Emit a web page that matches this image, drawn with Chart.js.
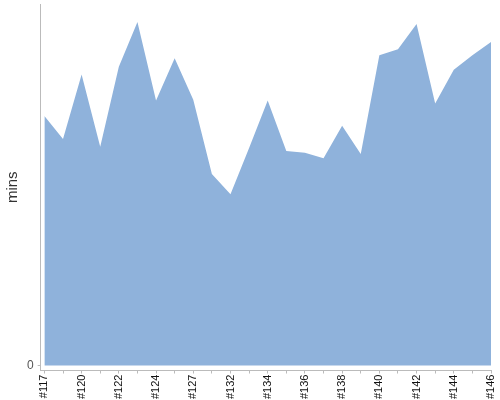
<!DOCTYPE html>
<html>
<head>
<meta charset="utf-8">
<script src="https://cdn.jsdelivr.net/npm/chart.js@4"></script>
<style>
  html, body { margin: 0; padding: 0; background: #fff; }
  #wrap { width: 500px; height: 400px; }
</style>
</head>
<body>
<div id="wrap"><canvas id="buildChart"></canvas></div>
<script>
// build numbers along the x axis
const builds = ['#117', '#118', '#120', '#121', '#122', '#123', '#124', '#125', '#127', '#130',
    '#132', '#133', '#134', '#135', '#136', '#137', '#138', '#139', '#140', '#141',
    '#142', '#143', '#144', '#145', '#146'];
// build duration in minutes
const durations = [41.4, 37.6, 48.3, 36.3, 49.6, 57.0, 44.0, 51.0, 44.1, 31.8,
    28.4, 36.1, 44.0, 35.6, 35.3, 34.4, 39.8, 35.1, 51.5, 52.5,
    56.7, 43.5, 49.1, 51.5, 53.7];
const yTicks = [0];

const points = durations.map((v, i) => ({ x: i, y: v }));

const ctx = document.getElementById('buildChart').getContext('2d');
new Chart(ctx, {
    type: 'line',
    data: {
        datasets: [{
            label: 'mins',
            data: points,
            fill: 'origin',
            backgroundColor: '#8fb2db',
            borderColor: '#8fb2db',
            borderWidth: 0,
            pointRadius: 0,
            tension: 0
        }]
    },
    options: {
        responsive: true,
        maintainAspectRatio: false,
        animation: false,
        layout: { padding: { top: 4, right: 9, left: 0, bottom: 0 } },
        plugins: {
            legend: { display: false },
            tooltip: { enabled: false }
        },
        scales: {
            x: {
                type: 'linear',
                min: -0.2,
                max: builds.length - 1,
                afterBuildTicks: axis => {
                    axis.ticks = builds.map((b, i) => ({ value: i }));
                },
                afterFit: axis => {
                    // let the last rotated label run to the edge
                    axis.paddingRight = 0;
                    axis.paddingLeft = 0;
                },
                ticks: {
                    autoSkip: false,
                    minRotation: 90,
                    maxRotation: 90,
                    padding: 1,
                    color: '#111',
                    font: { family: 'Liberation Sans', size: 11 },
                    callback: value => (value % 2 === 0 ? builds[value] : '')
                },
                grid: {
                    drawOnChartArea: false,
                    drawTicks: true,
                    tickLength: 3,
                    color: '#bbb'
                },
                border: { display: true, color: '#bbb' }
            },
            y: {
                min: -0.84,
                max: 60,
                afterBuildTicks: axis => {
                    axis.ticks = yTicks.map(v => ({ value: v }));
                },
                afterFit: axis => {
                    axis.paddingTop = 0;
                    axis.paddingBottom = 0;
                },
                ticks: {
                    color: '#555',
                    padding: 4,
                    font: { family: 'Liberation Sans', size: 12 }
                },
                grid: {
                    drawOnChartArea: false,
                    drawTicks: true,
                    tickLength: 3,
                    color: '#bbb'
                },
                border: { display: true, color: '#bbb' },
                title: {
                    display: true,
                    text: 'mins',
                    color: '#333',
                    padding: { top: 4, bottom: 1 },
                    font: { family: 'Liberation Sans', size: 15 }
                }
            }
        }
    }
});
</script>
</body>
</html>
